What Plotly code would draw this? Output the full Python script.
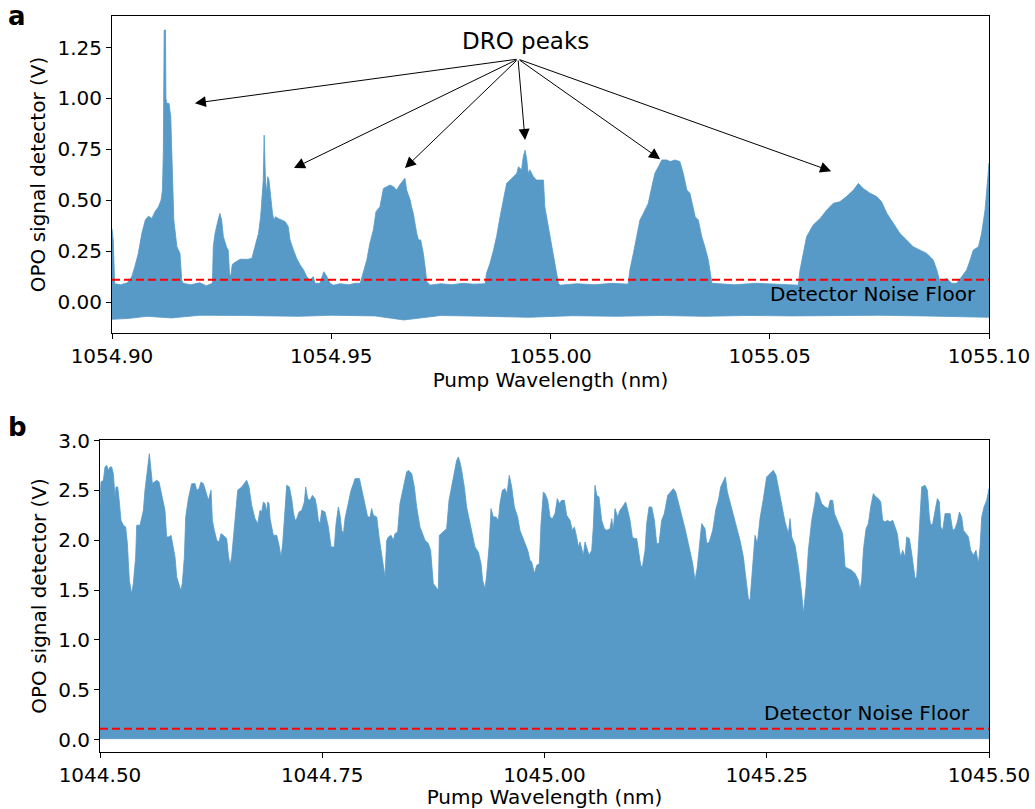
import plotly.graph_objects as go

# ---------------- Panel a: upper envelope of the detector trace ----------------
A_WL = [1054.9000, 1054.9003, 1054.9006, 1054.9020, 1054.9035, 1054.9045, 1054.9052, 1054.9060,
        1054.9068, 1054.9076, 1054.9083, 1054.9091, 1054.9098, 1054.9106, 1054.9112, 1054.9115,
        1054.9117, 1054.9118, 1054.9119, 1054.9122, 1054.9123, 1054.9125, 1054.9130, 1054.9134,
        1054.9136, 1054.9138, 1054.9141, 1054.9148, 1054.9155, 1054.9159, 1054.9162,
        1054.9180, 1054.9200, 1054.9215, 1054.9229,
        1054.9231, 1054.9235, 1054.9242, 1054.9246, 1054.9250, 1054.9254, 1054.9261, 1054.9265,
        1054.9268, 1054.9271, 1054.9274, 1054.9277, 1054.9292, 1054.9310, 1054.9319, 1054.9326,
        1054.9334, 1054.9339, 1054.9342, 1054.9345, 1054.9347, 1054.9350, 1054.9353, 1054.9355,
        1054.9358, 1054.9362, 1054.9366, 1054.9369, 1054.9373, 1054.9379, 1054.9387, 1054.9395,
        1054.9402, 1054.9406, 1054.9414, 1054.9421, 1054.9429, 1054.9437, 1054.9444, 1054.9452,
        1054.9459, 1054.9463, 1054.9474, 1054.9483, 1054.9490, 1054.9497, 1054.9505,
        1054.9520, 1054.9540, 1054.9555, 1054.9566,
        1054.9573, 1054.9581, 1054.9588, 1054.9596, 1054.9602, 1054.9611, 1054.9619, 1054.9626,
        1054.9634, 1054.9642, 1054.9649, 1054.9656, 1054.9664, 1054.9668, 1054.9672, 1054.9680,
        1054.9683, 1054.9687, 1054.9695, 1054.9699, 1054.9704, 1054.9710, 1054.9714, 1054.9718,
        1054.9725, 1054.9750, 1054.9775, 1054.9800, 1054.9825, 1054.9851,
        1054.9854, 1054.9862, 1054.9870, 1054.9877, 1054.9885, 1054.9892, 1054.9900, 1054.9908,
        1054.9915, 1054.9923, 1054.9927, 1054.9934, 1054.9938, 1054.9942, 1054.9946, 1054.9949,
        1054.9953, 1054.9961, 1054.9968, 1054.9984, 1054.9987, 1054.9995, 1055.0003, 1055.0010,
        1055.0018, 1055.0022, 1055.0060, 1055.0100, 1055.0140, 1055.0177,
        1055.0181, 1055.0189, 1055.0197, 1055.0204, 1055.0212, 1055.0223, 1055.0231, 1055.0238,
        1055.0246, 1055.0254, 1055.0265, 1055.0273, 1055.0284, 1055.0295, 1055.0303, 1055.0311,
        1055.0318, 1055.0330, 1055.0337, 1055.0345, 1055.0352, 1055.0360, 1055.0368,
        1055.0420, 1055.0470, 1055.0520, 1055.0565,
        1055.0569, 1055.0577, 1055.0584, 1055.0599, 1055.0615, 1055.0630, 1055.0645, 1055.0660,
        1055.0675, 1055.0691, 1055.0702, 1055.0713, 1055.0729, 1055.0744, 1055.0755, 1055.0767,
        1055.0782, 1055.0797, 1055.0812, 1055.0827, 1055.0843, 1055.0858, 1055.0873, 1055.0881,
        1055.0888, 1055.0904, 1055.0915, 1055.0926, 1055.0938, 1055.0949, 1055.0957, 1055.0964,
        1055.0976, 1055.0983, 1055.0991, 1055.0996, 1055.1000]
A_UP = [0.360, 0.300, 0.090, 0.085, 0.095, 0.124, 0.173, 0.239,
        0.337, 0.403, 0.422, 0.411, 0.444, 0.468, 0.501, 0.550,
        0.730, 1.060, 1.336, 1.336, 1.000, 0.976, 0.976, 0.910,
        0.750, 0.566, 0.403, 0.272, 0.239, 0.108, 0.092,
        0.085, 0.095, 0.080, 0.092,
        0.272, 0.337, 0.403, 0.436, 0.403, 0.321, 0.272, 0.255,
        0.141, 0.125, 0.182, 0.190, 0.210, 0.210, 0.215, 0.272,
        0.337, 0.419, 0.501, 0.599, 0.820, 0.599, 0.534, 0.616,
        0.599, 0.501, 0.436, 0.403, 0.419, 0.411, 0.403, 0.395,
        0.370, 0.305, 0.255, 0.215, 0.182, 0.157, 0.125, 0.108,
        0.125, 0.092, 0.092, 0.149, 0.125, 0.092, 0.083,
        0.090, 0.085, 0.092, 0.092,
        0.141, 0.206, 0.288, 0.354, 0.444, 0.468, 0.558, 0.566,
        0.575, 0.566, 0.550, 0.575, 0.599, 0.608, 0.550, 0.501,
        0.468, 0.436, 0.337, 0.305, 0.305, 0.239, 0.173, 0.100,
        0.083, 0.090, 0.085, 0.092, 0.088, 0.090,
        0.141, 0.190, 0.255, 0.321, 0.419, 0.501, 0.583, 0.599,
        0.616, 0.632, 0.665, 0.649, 0.714, 0.746, 0.698, 0.632,
        0.649, 0.616, 0.599, 0.599, 0.468, 0.370, 0.272, 0.190,
        0.092, 0.083, 0.090, 0.085, 0.092, 0.088,
        0.157, 0.239, 0.337, 0.403, 0.436, 0.485, 0.566, 0.632,
        0.665, 0.698, 0.698, 0.690, 0.698, 0.690, 0.630, 0.550,
        0.534, 0.419, 0.403, 0.321, 0.272, 0.206, 0.092,
        0.085, 0.092, 0.088, 0.083,
        0.157, 0.255, 0.321, 0.378, 0.411, 0.452, 0.485, 0.493,
        0.518, 0.550, 0.583, 0.558, 0.534, 0.518, 0.493, 0.436,
        0.386, 0.337, 0.305, 0.272, 0.255, 0.239, 0.206, 0.157,
        0.100, 0.116, 0.092, 0.092, 0.125, 0.157, 0.206, 0.255,
        0.272, 0.337, 0.452, 0.566, 0.681]

# Panel a: lower envelope
A_LOW_WL = [1054.900, 1054.904, 1054.908, 1054.9135, 1054.920, 1054.930, 1054.9425, 1054.950,
            1054.960, 1054.9665, 1054.975, 1054.985, 1054.995, 1055.005, 1055.015, 1055.025,
            1055.035, 1055.045, 1055.055, 1055.065, 1055.075, 1055.085, 1055.095, 1055.100]
A_LOW = [-0.085, -0.080, -0.070, -0.078, -0.065, -0.066, -0.070, -0.065,
         -0.068, -0.088, -0.066, -0.070, -0.075, -0.067, -0.070, -0.066,
         -0.070, -0.066, -0.068, -0.067, -0.065, -0.068, -0.072, -0.075]

# ---------------- Panel b: upper envelope ----------------
B_WL = [1044.5000, 1044.5011, 1044.5038, 1044.5056, 1044.5075, 1044.5094, 1044.5113, 1044.5131,
        1044.5150, 1044.5169, 1044.5180, 1044.5199, 1044.5214, 1044.5236, 1044.5263, 1044.5289,
        1044.5308, 1044.5330, 1044.5356, 1044.5375, 1044.5401, 1044.5413, 1044.5450, 1044.5488,
        1044.5506, 1044.5533, 1044.5555, 1044.5574, 1044.5589, 1044.5611, 1044.5638, 1044.5664,
        1044.5686, 1044.5713, 1044.5731, 1044.5750, 1044.5776, 1044.5799, 1044.5825, 1044.5844,
        1044.5863, 1044.5889, 1044.5908, 1044.5926, 1044.5949, 1044.5964, 1044.5994, 1044.6031,
        1044.6069, 1044.6088, 1044.6114, 1044.6136, 1044.6163, 1044.6181, 1044.6219, 1044.6249,
        1044.6264, 1044.6286, 1044.6313, 1044.6339, 1044.6361, 1044.6388, 1044.6425, 1044.6444,
        1044.6463, 1044.6481, 1044.6519, 1044.6549, 1044.6594, 1044.6631, 1044.6650, 1044.6676,
        1044.6706, 1044.6744, 1044.6774, 1044.6800, 1044.6819, 1044.6838, 1044.6856, 1044.6875,
        1044.6886, 1044.6901, 1044.6913, 1044.6950, 1044.6988, 1044.7014, 1044.7036, 1044.7055,
        1044.7081, 1044.7100, 1044.7130, 1044.7156, 1044.7175, 1044.7194, 1044.7213, 1044.7239,
        1044.7269, 1044.7299, 1044.7314, 1044.7336, 1044.7363, 1044.7389, 1044.7419, 1044.7438,
        1044.7456, 1044.7475, 1044.7494, 1044.7531, 1044.7569, 1044.7599, 1044.7636, 1044.7655,
        1044.7681, 1044.7700, 1044.7719, 1044.7738, 1044.7756, 1044.7794, 1044.7824, 1044.7850,
        1044.7869, 1044.7918, 1044.7944, 1044.7963, 1044.7981, 1044.8011, 1044.8038, 1044.8056,
        1044.8075, 1044.8113, 1044.8139, 1044.8169, 1044.8191, 1044.8206, 1044.8225, 1044.8244,
        1044.8274, 1044.8300,
        1044.8318, 1044.8348, 1044.8374, 1044.8412, 1044.8449, 1044.8468, 1044.8506, 1044.8536,
        1044.8562, 1044.8599, 1044.8626, 1044.8656, 1044.8693, 1044.8719, 1044.8749, 1044.8787,
        1044.8806, 1044.8817, 1044.8862, 1044.8899, 1044.8926, 1044.8956, 1044.8986, 1044.9012,
        1044.9031, 1044.9049, 1044.9068, 1044.9098, 1044.9124, 1044.9162, 1044.9188, 1044.9218,
        1044.9256, 1044.9286, 1044.9304, 1044.9331, 1044.9349, 1044.9376, 1044.9398, 1044.9424,
        1044.9454, 1044.9481, 1044.9499, 1044.9526, 1044.9556, 1044.9578, 1044.9604, 1044.9631,
        1044.9661, 1044.9698, 1044.9724, 1044.9751, 1044.9781, 1044.9811, 1044.9837, 1044.9856,
        1044.9886, 1044.9912, 1044.9942, 1044.9961, 1044.9987, 1045.0006, 1045.0036, 1045.0062,
        1045.0088, 1045.0118, 1045.0144, 1045.0167, 1045.0193, 1045.0223, 1045.0249, 1045.0287,
        1045.0313, 1045.0336, 1045.0362, 1045.0381, 1045.0399, 1045.0418, 1045.0437, 1045.0456,
        1045.0474, 1045.0501, 1045.0531, 1045.0549, 1045.0568, 1045.0587, 1045.0613, 1045.0643,
        1045.0673, 1045.0699, 1045.0737, 1045.0756, 1045.0774, 1045.0793, 1045.0823, 1045.0849,
        1045.0876, 1045.0913, 1045.0936, 1045.0962, 1045.0988, 1045.1011, 1045.1037, 1045.1063,
        1045.1082, 1045.1101, 1045.1131, 1045.1149, 1045.1176, 1045.1206, 1045.1236, 1045.1262,
        1045.1288, 1045.1318, 1045.1348, 1045.1386, 1045.1423, 1045.1449, 1045.1476, 1045.1506,
        1045.1543, 1045.1581, 1045.1618,
        1045.1667, 1045.1693, 1045.1719, 1045.1749, 1045.1768, 1045.1806, 1045.1824, 1045.1854,
        1045.1892, 1045.1929, 1045.1956, 1045.1982, 1045.2012, 1045.2034, 1045.2057, 1045.2087,
        1045.2117, 1045.2154, 1045.2199, 1045.2237, 1045.2267, 1045.2293, 1045.2312, 1045.2342,
        1045.2368, 1045.2394, 1045.2424, 1045.2462, 1045.2499, 1045.2537, 1045.2574, 1045.2604,
        1045.2631, 1045.2668, 1045.2706, 1045.2743, 1045.2762, 1045.2781, 1045.2818, 1045.2856,
        1045.2893, 1045.2912, 1045.2942, 1045.2968, 1045.3006, 1045.3043, 1045.3054, 1045.3081,
        1045.3118, 1045.3156, 1045.3193, 1045.3212, 1045.3242, 1045.3261, 1045.3287, 1045.3324,
        1045.3354, 1045.3381, 1045.3418, 1045.3456, 1045.3493, 1045.3531, 1045.3549, 1045.3568,
        1045.3587, 1045.3617, 1045.3643, 1045.3669, 1045.3699, 1045.3729, 1045.3756, 1045.3782,
        1045.3804, 1045.3831, 1045.3857, 1045.3887, 1045.3917, 1045.3943, 1045.3969, 1045.3992,
        1045.4007, 1045.4029, 1045.4056, 1045.4074, 1045.4104, 1045.4131, 1045.4149, 1045.4168,
        1045.4187, 1045.4217, 1045.4243, 1045.4281, 1045.4307, 1045.4329, 1045.4344, 1045.4367,
        1045.4393, 1045.4419, 1045.4442, 1045.4457, 1045.4479, 1045.4506, 1045.4532, 1045.4562,
        1045.4592, 1045.4618, 1045.4644, 1045.4667, 1045.4693, 1045.4712, 1045.4742, 1045.4768,
        1045.4794, 1045.4824, 1045.4854, 1045.4881, 1045.4899, 1045.4918, 1045.4944, 1045.4974,
        1045.5000]
B_UP = [2.333, 2.584, 2.601, 2.735, 2.751, 2.701, 2.735, 2.735,
        2.668, 2.434, 2.534, 2.534, 2.417, 2.200, 2.150, 2.133,
        1.966, 1.598, 1.464, 1.565, 1.832, 2.150, 2.150, 2.300,
        2.501, 2.735, 2.868, 2.701, 2.567, 2.584, 2.601, 2.584,
        2.484, 2.367, 2.300, 2.033, 2.033, 2.049, 1.932, 1.832,
        1.631, 1.565, 1.498, 1.565, 1.832, 2.233, 2.417, 2.567,
        2.567, 2.501, 2.517, 2.584, 2.567, 2.517, 2.400, 2.501,
        2.200, 2.099, 1.999, 1.982, 2.066, 2.049, 2.016, 1.849,
        1.748, 1.832, 2.200, 2.501, 2.534, 2.584, 2.601, 2.534,
        2.350, 2.216, 2.166, 2.300, 2.283, 2.384, 2.367, 2.283,
        2.384, 2.367, 2.216, 2.049, 2.049, 1.949, 1.832, 1.966,
        2.367, 2.551, 2.534, 2.417, 2.283, 2.200, 2.216, 2.283,
        2.300, 2.384, 2.534, 2.417, 2.400, 2.450, 2.417, 2.333,
        2.200, 2.166, 2.300, 2.283, 2.133, 1.932, 1.932, 2.166,
        2.333, 2.250, 2.099, 2.066, 2.216, 2.367, 2.501, 2.567,
        2.618, 2.618, 2.517, 2.450, 2.367, 2.233, 2.233, 2.317,
        2.250, 2.233, 2.033, 1.865, 1.715, 1.631, 1.999, 2.033,
        2.049, 1.999,
        2.066, 2.083, 2.367, 2.534, 2.684, 2.701, 2.668, 2.534,
        2.333, 2.133, 2.066, 1.999, 1.966, 1.899, 1.565, 1.514,
        1.498, 2.049, 2.083, 2.116, 2.400, 2.534, 2.684, 2.801,
        2.835, 2.785, 2.701, 2.534, 2.333, 2.166, 2.066, 1.932,
        1.882, 1.765, 1.598, 1.514, 1.648, 1.932, 2.317, 2.233,
        2.233, 2.200, 2.367, 2.501, 2.517, 2.467, 2.651, 2.534,
        2.333, 2.233, 2.099, 2.033, 1.966, 1.899, 1.799, 1.782,
        1.665, 1.748, 1.765, 2.166, 2.484, 2.467, 2.400, 2.233,
        2.216, 2.267, 2.417, 2.367, 2.400, 2.400, 2.250, 2.200,
        2.099, 2.133, 2.033, 1.932, 1.982, 1.899, 1.849, 1.982,
        1.932, 1.849, 1.899, 2.133, 2.551, 2.450, 2.434, 2.200,
        2.116, 2.099, 2.116, 2.216, 2.099, 2.317, 2.233, 2.300,
        2.333, 2.384, 2.300, 2.200, 2.033, 2.016, 2.016, 1.865,
        1.748, 1.732, 1.899, 2.166, 2.333, 2.333, 2.200, 1.966,
        1.966, 2.200, 2.267, 2.450, 2.484, 2.517, 2.484, 2.384,
        2.250, 2.116, 1.966,
        1.765, 1.598, 1.732, 1.999, 2.166, 2.116, 1.966, 1.982,
        2.099, 2.317, 2.400, 2.534, 2.601, 2.634, 2.484, 2.384,
        2.300, 2.166, 1.999, 1.832, 1.631, 1.414, 1.397, 1.732,
        2.049, 1.966, 2.216, 2.417, 2.634, 2.668, 2.701, 2.651,
        2.517, 2.333, 2.183, 2.066, 2.216, 2.033, 1.949, 1.732,
        1.464, 1.264, 1.531, 1.899, 2.200, 2.384, 2.484, 2.467,
        2.367, 2.333, 2.317, 2.400, 2.400, 2.267, 2.216, 2.133,
        2.066, 1.732, 1.715, 1.698, 1.665, 1.598, 1.498, 1.598,
        1.899, 2.116, 2.166, 2.333, 2.467, 2.434, 2.417, 2.384,
        2.200, 2.183, 2.200, 2.183, 2.200, 2.133, 2.066, 1.899,
        1.832, 1.899, 1.832, 2.033, 2.016, 1.865, 1.765, 1.615,
        1.631, 2.200, 2.534, 2.551, 2.501, 2.233, 2.150, 2.166,
        2.300, 2.417, 2.384, 2.133, 2.099, 2.267, 2.267, 2.267,
        2.099, 2.116, 2.183, 2.283, 2.233, 2.099, 2.066, 2.033,
        1.899, 1.849, 1.899, 1.765, 1.932, 2.233, 2.333, 2.400,
        2.517]
B_LOW_WL = [1044.50, 1045.50]
B_LOW = [0.010, 0.010]

NOISE_FLOOR = 0.11

# DRO peak arrow targets (panel a)
DRO_TAIL = (1054.9926, 1.1935)
DRO_HEADS_X = [1054.9189, 1054.9415, 1054.9668, 1054.9942, 1055.0250, 1055.0640]
DRO_HEADS_Y = [0.977, 0.658, 0.658, 0.796, 0.702, 0.643]

FILL = "#5799C7"
FONT = "DejaVu Sans"

fig = go.Figure()

fig.add_trace(go.Scatter(
    x=A_WL + A_LOW_WL[::-1], y=A_UP + A_LOW[::-1],
    fill="toself", fillcolor=FILL, mode="lines",
    line=dict(color=FILL, width=0.8), xaxis="x", yaxis="y",
    showlegend=False, hoverinfo="skip"))
fig.add_trace(go.Scatter(
    x=B_WL + B_LOW_WL[::-1], y=B_UP + B_LOW[::-1],
    fill="toself", fillcolor=FILL, mode="lines",
    line=dict(color=FILL, width=0.8), xaxis="x2", yaxis="y2",
    showlegend=False, hoverinfo="skip"))

for yref in ["y", "y2"]:
    fig.add_shape(type="line", xref=("x domain" if yref == "y" else "x2 domain"),
                  x0=0, x1=1, yref=yref, y0=NOISE_FLOOR, y1=NOISE_FLOOR,
                  line=dict(color="red", width=2, dash="8px,4px"))

W, H = 1035, 809
axis_common = dict(showline=True, linecolor="black", linewidth=1, mirror=True,
                   ticks="outside", ticklen=5, tickwidth=1, tickcolor="black",
                   showgrid=False, zeroline=False, automargin=False,
                   tickfont=dict(family=FONT, size=20, color="black"))

fig.update_layout(
    width=W, height=H,
    margin=dict(l=0, r=0, t=0, b=0),
    paper_bgcolor="white", plot_bgcolor="white",
    font=dict(family=FONT, size=20, color="black"),
    xaxis=dict(domain=[112 / W, 989 / W], range=[1054.90, 1055.10], anchor="y",
               tickvals=[1054.90, 1054.95, 1055.00, 1055.05, 1055.10], tickformat=".2f",
               title=dict(text="Pump Wavelength (nm)", standoff=3,
                          font=dict(family=FONT, size=20)),
               **axis_common),
    yaxis=dict(domain=[1 - 333 / H, 1 - 16 / H], range=[-0.152, 1.405], anchor="x",
               tickvals=[0, 0.25, 0.5, 0.75, 1.0, 1.25], tickformat=".2f",
               title=dict(text="OPO signal detector (V)", standoff=6,
                          font=dict(family=FONT, size=20)),
               **axis_common),
    xaxis2=dict(domain=[100 / W, 989 / W], range=[1044.5, 1045.5], anchor="y2",
                tickvals=[1044.5, 1044.75, 1045.0, 1045.25, 1045.5], tickformat=".2f",
                title=dict(text="Pump Wavelength (nm)", standoff=2,
                           font=dict(family=FONT, size=20)),
                **axis_common),
    yaxis2=dict(domain=[1 - 752 / H, 1 - 440 / H], range=[-0.124, 3.005], anchor="x2",
                tickvals=[0, 0.5, 1.0, 1.5, 2.0, 2.5, 3.0], tickformat=".1f",
                title=dict(text="OPO signal detector (V)", standoff=6,
                           font=dict(family=FONT, size=20)),
                **axis_common),
)

annotations = []
for hx, hy in zip(DRO_HEADS_X, DRO_HEADS_Y):
    annotations.append(dict(x=hx, y=hy, xref="x", yref="y",
                            ax=DRO_TAIL[0], ay=DRO_TAIL[1], axref="x", ayref="y",
                            text="", showarrow=True, arrowhead=2, arrowsize=2.2,
                            arrowwidth=1, arrowcolor="black"))
annotations += [
    dict(text="DRO peaks", x=525 / W, y=1 - 41 / H, xref="paper", yref="paper",
         showarrow=False, font=dict(family=FONT, size=23, color="black"),
         xanchor="center", yanchor="middle"),
    dict(text="Detector Noise Floor", x=873 / W, y=1 - 294 / H, xref="paper", yref="paper",
         showarrow=False, font=dict(family=FONT, size=20, color="black"),
         xanchor="center", yanchor="middle"),
    dict(text="Detector Noise Floor", x=867 / W, y=1 - 713 / H, xref="paper", yref="paper",
         showarrow=False, font=dict(family=FONT, size=20, color="black"),
         xanchor="center", yanchor="middle"),
    dict(text="<b>a</b>", x=17 / W, y=1.0, xref="paper", yref="paper",
         showarrow=False, font=dict(family=FONT, size=26, color="black"),
         xanchor="center", yanchor="top", borderpad=0),
    dict(text="<b>b</b>", x=17 / W, y=1 - 427 / H, xref="paper", yref="paper",
         showarrow=False, font=dict(family=FONT, size=26, color="black"),
         xanchor="center", yanchor="middle"),
]
fig.update_layout(annotations=annotations)

fig.write_html("out.html")
